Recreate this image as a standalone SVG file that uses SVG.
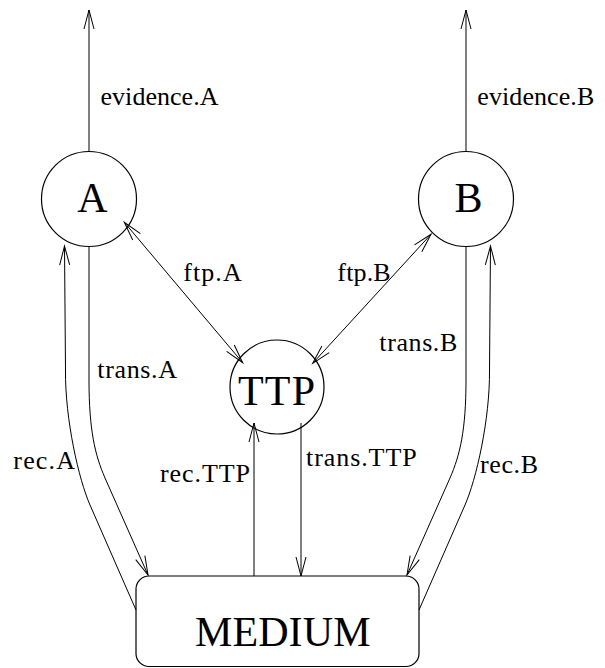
<svg xmlns="http://www.w3.org/2000/svg" width="605" height="668" viewBox="0 0 605 668">
<style>
.n{fill:none;stroke:#000;stroke-width:1.2}
.c{fill:none;stroke:#000;stroke-width:1}
.big{font-family:"Liberation Serif","Times New Roman",serif;font-size:42px;fill:#000}
.lbl{font-family:"Liberation Serif","Times New Roman",serif;font-size:26px;fill:#000}
</style>
<defs>
<marker id="ah" markerUnits="userSpaceOnUse" markerWidth="24" markerHeight="14" refX="20" refY="7" orient="auto-start-reverse">
<path d="M1,2 L20,7 L1,12" fill="none" stroke="#000" stroke-width="1"/>
</marker>
</defs>
<rect width="605" height="668" fill="#fff"/>
<g id="connectors">
<path class="c" d="M89,151.5 L89,10" marker-end="url(#ah)"/>
<path class="c" d="M466,151.5 L466,10" marker-end="url(#ah)"/>
<path class="c" d="M124.3,222.3 L242.7,362.7" marker-start="url(#ah)" marker-end="url(#ah)"/>
<path class="c" d="M431,234.3 L312.7,363.3" marker-start="url(#ah)" marker-end="url(#ah)"/>
<path class="c" d="M89,247 L89,380 C89,430 95,455 105,478 L148,575" marker-end="url(#ah)"/>
<path class="c" d="M136,610 L90,505 C79,480 65,420 65.5,370 L64.5,246" marker-end="url(#ah)"/>
<path class="c" d="M466,247 L466,380 C466,430 460,455 450,478 L407,575" marker-end="url(#ah)"/>
<path class="c" d="M419,610 L465,505 C476,480 490,420 489.5,370 L490.5,246" marker-end="url(#ah)"/>
<path class="c" d="M254,576 L254,423" marker-end="url(#ah)"/>
<path class="c" d="M301,423 L301,576" marker-end="url(#ah)"/>
</g>
<g id="labels">
<text class="lbl" x="100.5" y="105" textLength="118" lengthAdjust="spacing">evidence.A</text>
<text class="lbl" x="477.3" y="105" textLength="117" lengthAdjust="spacing">evidence.B</text>
<text class="lbl" x="183.3" y="281" textLength="58.4" lengthAdjust="spacing">ftp.A</text>
<text class="lbl" x="337.3" y="281" textLength="53.4" lengthAdjust="spacing">ftp.B</text>
<text class="lbl" x="97.3" y="378.3" textLength="79.7" lengthAdjust="spacing">trans.A</text>
<text class="lbl" x="379.3" y="350.7" textLength="78" lengthAdjust="spacing">trans.B</text>
<text class="lbl" x="13.3" y="469.3" textLength="61.7" lengthAdjust="spacing">rec.A</text>
<text class="lbl" x="160" y="481.5" textLength="90" lengthAdjust="spacing">rec.TTP</text>
<text class="lbl" x="306" y="465.7" textLength="110.7" lengthAdjust="spacing">trans.TTP</text>
<text class="lbl" x="480" y="473.3" textLength="58" lengthAdjust="spacing">rec.B</text>
</g>
<g id="node-A">
<circle class="n" cx="89" cy="199" r="47.5"/>
<text class="big" x="77.3" y="211.5">A</text>
</g>
<g id="node-B">
<circle class="n" cx="466" cy="199" r="47.5"/>
<text class="big" x="454.5" y="211.5">B</text>
</g>
<g id="node-TTP">
<circle class="n" cx="277" cy="387" r="47"/>
<text class="big" x="238" y="405" textLength="77" lengthAdjust="spacing">TTP</text>
</g>
<g id="node-MEDIUM">
<rect class="n" x="136" y="576" width="283" height="90.5" rx="13" ry="13"/>
<text class="big" x="195" y="645.7" textLength="175.5" lengthAdjust="spacing">MEDIUM</text>
</g>
</svg>
